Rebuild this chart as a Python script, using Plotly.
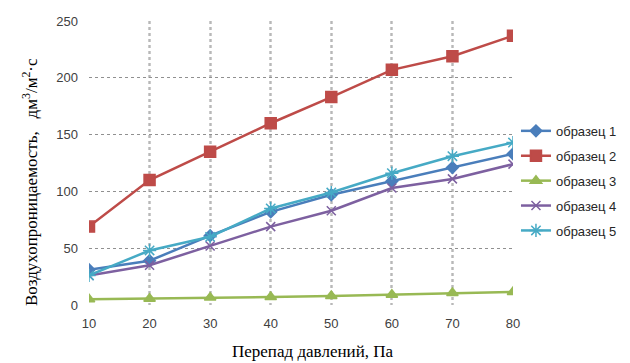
import plotly.graph_objects as go

pressure = [10, 20, 30, 40, 50, 60, 70, 80]
sample1 = [31, 39, 61, 82, 97, 109, 121, 133]
sample2 = [69, 110, 135, 160, 183, 207, 219, 237]
sample3 = [5, 5.5, 6.5, 7, 8, 9, 10.5, 11.5]
sample4 = [26, 35, 52, 69, 83, 103, 111, 124]
sample5 = [26, 48, 60, 85, 99, 116, 131, 143]
names = ["образец 1", "образец 2", "образец 3", "образец 4", "образец 5"]
x_ticks = [10, 20, 30, 40, 50, 60, 70, 80]
y_ticks = [0, 50, 100, 150, 200, 250]

series = [sample1, sample2, sample3, sample4, sample5]
colors = ["#4A7EBB", "#BE4B48", "#98B954", "#7D60A0", "#46AAC5"]
symbols = ["diamond", "square", "triangle-up", "x-thin", "asterisk"]
sizes = [9, 11, 10, 9, 11]

fig = go.Figure()
for vals, name, c, s, sz in zip(series, names, colors, symbols, sizes):
    fig.add_trace(go.Scatter(
        x=pressure, y=vals, name=name, mode="lines+markers",
        legendgroup=name,
        line=dict(color=c, width=2.5),
        marker=dict(symbol=s, size=sz, color=c,
                    line=dict(color=c, width=1.5)),
    ))

fig.update_layout(
    width=630, height=363,
    margin=dict(l=89, r=117, t=21, b=58, autoexpand=False),
    paper_bgcolor="white", plot_bgcolor="white",
    font=dict(family="Liberation Sans", size=13, color="#404040"),
    showlegend=True,
    legend=dict(x=1.007, xanchor="left", y=0.437, yanchor="middle",
                font=dict(family="Liberation Sans", size=13, color="#262626"),
                tracegroupgap=5, itemwidth=30,
                bgcolor="rgba(0,0,0,0)"),
    xaxis=dict(range=[10, 80], tickmode="array", tickvals=x_ticks,
               showline=False, zeroline=False, automargin=False,
               showgrid=True, gridcolor="#B8B8B8", griddash="dot", gridwidth=1,
               minor=dict(tickmode="array", tickvals=x_ticks[1:], showgrid=True,
                          gridcolor="#CCCCCC", gridwidth=2.5, ticks=""),
               ticks="outside", ticklen=6, tickcolor="rgba(0,0,0,0)",
               tickfont=dict(size=13, color="#404040")),
    yaxis=dict(range=[0, 250], tickvals=y_ticks, showline=False, zeroline=False,
               automargin=False,
               showgrid=True, gridcolor="#909090", griddash="dot", gridwidth=1,
               ticks="", ticklabelstandoff=10, tickfont=dict(size=13, color="#404040")),
    annotations=[
        dict(text="Воздухопроницаемость,\u00a0\u00a0\u00a0дм<sup>3</sup>/м<sup>2</sup>·с",
             xref="paper", yref="paper", x=-0.139, y=0.433, textangle=-90,
             showarrow=False, xanchor="center", yanchor="middle",
             font=dict(family="Liberation Serif", size=17, color="#000000")),
        dict(text="Перепад давлений, Па",
             xref="paper", yref="paper", x=0.528, y=-0.165,
             showarrow=False, xanchor="center", yanchor="middle",
             font=dict(family="Liberation Serif", size=17, color="#000000")),
    ],
)

fig.write_html(
    "out.html",
    config={"responsive": False, "displayModeBar": False},
    post_script="document.body.style.margin='0';document.body.style.padding='0';document.body.style.overflow='hidden';",
)
